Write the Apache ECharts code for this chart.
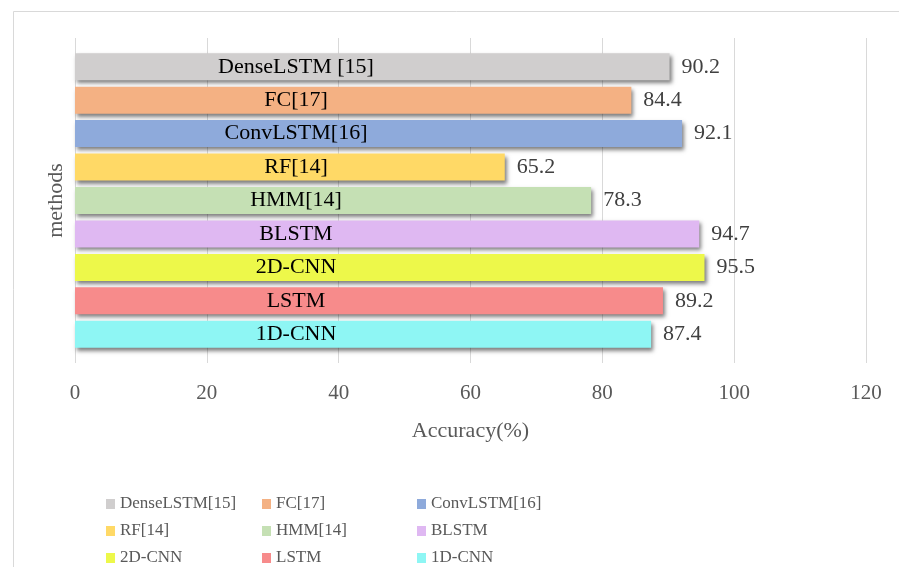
<!DOCTYPE html>
<html>
<head>
<meta charset="utf-8">
<script src="https://cdn.jsdelivr.net/npm/echarts@6/dist/echarts.min.js"></script>
<style>html,body{margin:0;padding:0;background:#fff;}#c{width:899px;height:567px;}</style>
</head>
<body>
<div id="c"></div>
<script>
const categories = ['DenseLSTM [15]', 'FC[17]', 'ConvLSTM[16]', 'RF[14]', 'HMM[14]', 'BLSTM', '2D-CNN', 'LSTM', '1D-CNN'];
const legendNames = ['DenseLSTM[15]', 'FC[17]', 'ConvLSTM[16]', 'RF[14]', 'HMM[14]', 'BLSTM', '2D-CNN', 'LSTM', '1D-CNN'];
const accuracy = [90.2, 84.4, 92.1, 65.2, 78.3, 94.7, 95.5, 89.2, 87.4];
const colors = ['#d0cece', '#f4b183', '#8eaadb', '#ffd966', '#c5e0b4', '#dfb8f2', '#edf84a', '#f78b8b', '#8ef6f4'];
const xMin = 0, xMax = 120, xStep = 20;
const legendColumns = [
  ['DenseLSTM[15]', 'RF[14]', '2D-CNN'],
  ['FC[17]', 'HMM[14]', 'LSTM'],
  ['ConvLSTM[16]', 'BLSTM', '1D-CNN']
];
const legendLefts = [106, 262, 417];

const FONT = 'Liberation Serif';
const chart = echarts.init(document.getElementById('c'), null, {renderer: 'canvas'});

const series = legendNames.map((n, i) => ({
  name: n,
  type: 'bar',
  xAxisIndex: 1,
  yAxisIndex: 1,
  stack: 'all',
  barWidth: 27,
  data: categories.map((c, j) => (j === i ? accuracy[i] : '-')),
  itemStyle: {
    color: colors[i],
    shadowColor: 'rgba(0,0,0,0.5)',
    shadowBlur: 4,
    shadowOffsetX: 2,
    shadowOffsetY: 3
  },
  label: {
    show: true,
    position: 'right',
    distance: 12,
    fontFamily: FONT,
    fontSize: 22,
    color: '#404040',
    formatter: p => p.value
  }
}));

const option = {
  backgroundColor: '#ffffff',
  animation: false,
  textStyle: {fontFamily: FONT},
  graphic: [{
    type: 'rect',
    z: -10,
    shape: {x: 13.5, y: 11.5, width: 1000, height: 1000},
    style: {fill: 'none', stroke: '#d9d9d9', lineWidth: 1}
  }],
  grid: [
    {left: 75, right: 33, top: 38, height: 325},
    {left: 75, right: 33, top: 50, height: 301}
  ],
  xAxis: [
    {
      gridIndex: 0, type: 'value', min: xMin, max: xMax, interval: xStep,
      axisLine: {show: false}, axisTick: {show: false},
      splitLine: {show: true, lineStyle: {color: '#d9d9d9', width: 1}},
      axisLabel: {margin: 20, fontFamily: FONT, fontSize: 21, color: '#595959'},
      name: 'Accuracy(%)', nameLocation: 'middle', nameGap: 57,
      nameTextStyle: {fontFamily: FONT, fontSize: 22, color: '#595959'}
    },
    {
      gridIndex: 1, type: 'value', min: xMin, max: xMax, show: false
    }
  ],
  yAxis: [
    {gridIndex: 0, type: 'value', show: false},
    {
      gridIndex: 1, type: 'category', data: categories, inverse: true, z: 10,
      axisLine: {show: false}, axisTick: {show: false}, splitLine: {show: false},
      axisLabel: {inside: true, margin: 221, align: 'center', fontFamily: FONT, fontSize: 22, color: '#000000'},
      name: 'methods', nameLocation: 'middle', nameRotate: 90, nameGap: 3,
      nameTextStyle: {fontFamily: FONT, fontSize: 22, color: '#595959'}
    }
  ],
  legend: legendColumns.map((col, k) => ({
    orient: 'vertical',
    left: legendLefts[k],
    top: 495,
    padding: 0,
    itemGap: 9,
    itemWidth: 9,
    itemHeight: 10,
    icon: 'rect',
    selectedMode: false,
    data: col,
    textStyle: {fontFamily: FONT, fontSize: 17, lineHeight: 18, color: '#595959'}
  })),
  series: series
};
chart.setOption(option);
</script>
</body>
</html>
